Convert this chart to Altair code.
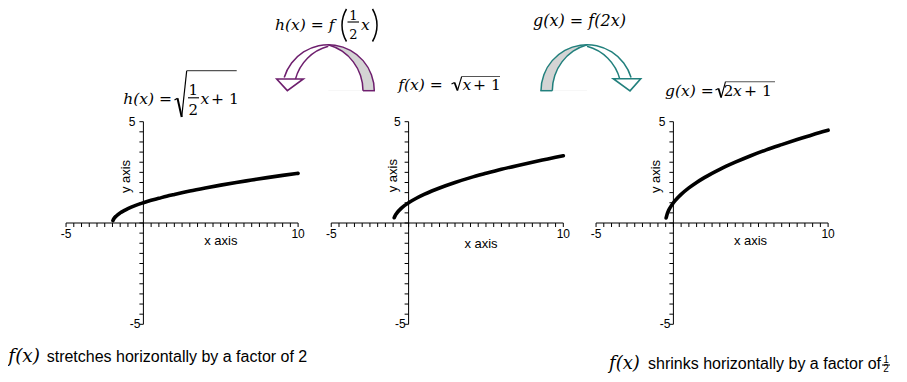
import math
import altair as alt
import pandas as pd

# ---------------- data ----------------
h_x = [-1.97, -1.9, -1.75, -1.5, -1.25, -1.0, -0.5, 0.0, 0.5, 1.0, 1.5, 2.0, 3.0, 4.0, 5.0, 6.0, 7.0, 8.0, 9.0, 10.0]
h_y = [0.12, 0.22, 0.35, 0.5, 0.61, 0.71, 0.87, 1.0, 1.12, 1.22, 1.32, 1.41, 1.58, 1.73, 1.87, 2.0, 2.12, 2.24, 2.35, 2.45]

f_x = [-0.93, -0.85, -0.75, -0.5, -0.25, 0.0, 0.5, 1.0, 1.5, 2.0, 3.0, 4.0, 5.0, 6.0, 7.0, 8.0, 9.0, 10.0]
f_y = [0.26, 0.39, 0.5, 0.71, 0.87, 1.0, 1.22, 1.41, 1.58, 1.73, 2.0, 2.24, 2.45, 2.65, 2.83, 3.0, 3.16, 3.32]

g_x = [-0.47, -0.42, -0.35, -0.25, -0.1, 0.0, 0.25, 0.5, 1.0, 1.5, 2.0, 3.0, 4.0, 5.0, 6.0, 7.0, 8.0, 9.0, 10.0]
g_y = [0.25, 0.4, 0.55, 0.71, 0.89, 1.0, 1.22, 1.41, 1.73, 2.0, 2.24, 2.65, 3.0, 3.32, 3.61, 3.87, 4.12, 4.36, 4.58]

x_range = [-5, 10]
y_range = [-5, 5]
x_ticks = [i / 2 for i in range(-10, 21)]
y_ticks = [i / 2 for i in range(-10, 11)]
x_tick_labels = ["-5", "10"]
y_tick_labels = ["5", "-5"]

# ---------------- layout ----------------
W, H = 891, 366
M = 8                # page margin
PX = 15.47           # px per x unit
PY = 20.26           # px per y unit
Y0 = 223 - M         # chart px of y = 0

Y_SCALE = alt.Scale(domain=[-(H - Y0) / PY, Y0 / PY], nice=False, zero=False)

MATH = "DejaVu Serif"
SANS = "Liberation Sans"
PURPLE = "#6e1f6e"
TEAL = "#22807d"
GRAYFILL = "#d4d4d4"
TAU = 2 * math.pi

one = pd.DataFrame({"k": [0]})
layers = []


def xscale(o):
    oc = o - M
    return alt.Scale(domain=[-oc / PX, (W - oc) / PX], nice=False, zero=False)


def txt(s, x, y, size=15, font=MATH, style="normal", align="left",
        baseline="alphabetic", angle=0, color="black"):
    kw = dict(font=font, fontSize=size, fontStyle=style, align=align,
              baseline=baseline, color=color)
    if angle:
        kw["angle"] = angle
    return alt.Chart(pd.DataFrame({"t": [s]})).mark_text(**kw).encode(
        x=alt.value(x - M), y=alt.value(y - M), text="t:N")


def seg(x1, y1, x2, y2, w=1.2, color="black"):
    return alt.Chart(one).mark_rule(color=color, strokeWidth=w).encode(
        x=alt.value(x1 - M), y=alt.value(y1 - M),
        x2=alt.value(x2 - M), y2=alt.value(y2 - M))


def sector(cx, cy, r_out, r_in, t1, t2, fill):
    return alt.Chart(one).mark_arc(radius=r_out, radius2=r_in, theta=t1, theta2=t2,
                                   fill=fill, strokeWidth=0).encode(
        x=alt.value(cx - M), y=alt.value(cy - M))


def ring(cx, cy, r, t1, t2, color, w=1.5):
    return sector(cx, cy, r + w / 2, r - w / 2, t1, t2, color)


def panel(o, xs, ys, xt_dx, xt_base, yt_dx, yt_cy):
    sc = xscale(o)

    def X(f):
        return alt.X(f"{f}:Q", scale=sc, axis=None)

    def Y(f):
        return alt.Y(f"{f}:Q", scale=Y_SCALE, axis=None)

    out = []
    axes_df = pd.DataFrame({"x": [x_range[0], 0], "x2": [x_range[1], 0],
                            "y": [0, y_range[0]], "y2": [0, y_range[1]]})
    out.append(alt.Chart(axes_df).mark_rule(color="black", strokeWidth=1).encode(
        x=X("x"), x2=alt.X2("x2"), y=Y("y"), y2=alt.Y2("y2")))
    out.append(alt.Chart(pd.DataFrame({"x": x_ticks, "y": [0] * len(x_ticks)}))
               .mark_tick(orient="vertical", size=4, thickness=1, color="black",
                          opacity=1, yOffset=2)
               .encode(x=X("x"), y=Y("y")))
    out.append(alt.Chart(pd.DataFrame({"x": [0] * len(y_ticks), "y": y_ticks}))
               .mark_tick(orient="horizontal", size=4, thickness=1, color="black",
                          opacity=1, xOffset=-2)
               .encode(x=X("x"), y=Y("y")))
    # tick labels
    out.append(alt.Chart(pd.DataFrame({"x": x_range, "y": [0, 0], "t": x_tick_labels}))
               .mark_text(font=SANS, fontSize=12, align="center", dy=11, color="black")
               .encode(x=X("x"), y=Y("y"), text="t:N"))
    out.append(alt.Chart(pd.DataFrame({"x": [0], "y": [y_range[1]], "t": [y_tick_labels[0]]}))
               .mark_text(font=SANS, fontSize=12, align="right", baseline="middle",
                          dx=-8, color="black")
               .encode(x=X("x"), y=Y("y"), text="t:N"))
    out.append(alt.Chart(pd.DataFrame({"x": [0], "y": [y_range[0]], "t": [y_tick_labels[1]]}))
               .mark_text(font=SANS, fontSize=12, align="right", baseline="middle",
                          dx=-3, color="black")
               .encode(x=X("x"), y=Y("y"), text="t:N"))
    # axis titles
    out.append(txt("x axis", o + xt_dx, xt_base, size=13, font=SANS, align="center"))
    out.append(txt("y axis", o + yt_dx, yt_cy, size=13, font=SANS, align="center", angle=270))
    # curve
    out.append(alt.Chart(pd.DataFrame({"x": xs, "y": ys}))
               .mark_line(color="black", strokeWidth=3.6, strokeCap="round",
                          interpolate="monotone")
               .encode(x=X("x"), y=Y("y")))
    return out


layers += panel(143.4, h_x, h_y, 77.4, 245, -13.4, 176.5)
layers += panel(408.6, f_x, f_y, 72.4, 248, -11.5, 175.7)
layers += panel(673.4, g_x, g_y, 77.1, 245, -13.4, 176.5)


# ---------------- curved block arrows ----------------
def head(x, y, shape, size, color):
    return alt.Chart(one).mark_point(shape=shape, size=size, filled=True, fill="white",
                                     stroke=color, strokeWidth=1.6, opacity=1).encode(
        x=alt.value(x - M), y=alt.value(y - M))


def curved_arrow(cx, cy, color, s):
    """s = +1: arrow bends to the left (head on the left); s = -1: mirrored."""
    R, R2, R3 = 46.0, 47.8, 46.0
    c2x = cx - s * 13.1          # centre of the inner edge of the grey back band
    c3x = cx + s * 11.7          # centre of the inner edge of the white front band

    def th(a, b):
        if s > 0:
            return a, b
        return TAU - b + TAU, TAU - a + TAU

    out = []
    a, b = th(0, math.pi / 2)
    out.append(sector(cx, cy, R, 0, a, b, GRAYFILL))
    out.append(sector(c2x, cy, R2, 0, a, b, "white"))
    a, b = th(TAU - 1.28, TAU + math.pi / 2)
    out.append(ring(cx, cy, R, a, b, color))
    a, b = th(0.275, math.pi / 2)
    out.append(ring(c2x, cy, R2, a, b, color))
    a, b = th(4.969, 6.026)
    out.append(ring(c3x, cy, R3, a, b, color))
    if s > 0:
        out.append(seg(cx + 34.7, cy, cx + 46.7, cy, 1.5, color))
    else:
        out.append(seg(cx - 46.7, cy, cx - 34.7, cy, 1.5, color))
    return out


layers += curved_arrow(328.3, 90.7, PURPLE, 1)
layers.append(head(290, 84.8, "M-1,-0.44L1,-0.44L-0.2,0.44Z", 708, PURPLE))
layers += curved_arrow(587, 90.7, TEAL, -1)
layers.append(head(627, 84.8, "M-1,-0.44L1,-0.44L0.22,0.44Z", 751, TEAL))


# ---------------- formulas ----------------
def paren(x_extreme, ytop, ybot, left, w=1.5):
    half = (ybot - ytop) / 2
    sag = 4.5
    r = (half ** 2 + sag ** 2) / (2 * sag)
    ang = math.asin(half / r)
    cy = (ytop + ybot) / 2
    if left:
        return ring(x_extreme + r, cy, r, 1.5 * math.pi - ang, 1.5 * math.pi + ang, "black", w)
    return ring(x_extreme - r, cy, r, 0.5 * math.pi - ang, 0.5 * math.pi + ang, "black", w)


# h(x) = f(1/2 x)   (kept inside the drawing area: nothing above page y = 8)
layers.append(txt("h(x) = f", 275, 30, 15.5, style="italic"))
layers.append(paren(342, 9, 41.5, True))
layers.append(txt("1", 353.3, 19.5, 13, align="center"))
layers.append(seg(347.5, 22, 359, 22, 1.1))
layers.append(txt("2", 353.3, 38.5, 13, align="center"))
layers.append(txt("x", 361, 30, 15.5, style="italic"))
layers.append(paren(377, 9, 41.5, False))
# g(x) = f(2x)
layers.append(txt("g(x) = f(2x)", 533, 26, 16, style="italic"))

# panel 1 label: h(x) = sqrt(1/2 x + 1)
layers.append(txt("h(x) =", 123.3, 104, 15.5, style="italic"))
layers.append(seg(174.5, 100, 177.5, 98.3, 1.3))
layers.append(seg(177.5, 98.3, 181.7, 117, 2))
layers.append(seg(181.7, 117, 186.7, 70.7, 1.2))
layers.append(seg(186.7, 70.7, 236.7, 70.7, 1.2, "#555555"))
layers.append(txt("1", 193.3, 95, 15, align="center"))
layers.append(seg(188, 97.8, 199, 97.8, 1.1))
layers.append(txt("2", 193.3, 115, 15, align="center"))
layers.append(txt("x", 200.5, 103.5, 15.5, style="italic"))
layers.append(txt("+ 1", 211, 103.5, 15.5))

# panel 2 label: f(x) = sqrt(x + 1)
layers.append(txt("f(x) =", 398.3, 90, 15.5, style="italic"))
layers.append(seg(451.5, 84, 454.5, 82.5, 1.2))
layers.append(seg(454.5, 82.5, 457.5, 90.5, 1.8))
layers.append(seg(457.5, 90.5, 461.7, 76.5, 1.1))
layers.append(seg(461.7, 76.5, 500, 76.5, 1.1, "#555555"))
layers.append(txt("x", 462.5, 90, 15.5, style="italic"))
layers.append(txt("+ 1", 473, 90, 15.5))

# panel 3 label: g(x) = sqrt(2x + 1)
layers.append(txt("g(x) =", 665, 95.5, 15.5, style="italic"))
layers.append(seg(715.5, 90, 718.5, 88.5, 1.2))
layers.append(seg(718.5, 88.5, 721.2, 97.5, 1.8))
layers.append(seg(721.2, 97.5, 725.5, 81.7, 1.1))
layers.append(seg(725.5, 81.7, 775, 81.7, 1.1, "#555555"))
layers.append(txt("2", 723.5, 95.5, 15.5))
layers.append(txt("x", 733, 95.5, 15.5, style="italic"))
layers.append(txt("+ 1", 744, 95.5, 15.5))

# ---------------- captions ----------------
layers.append(txt("f(x)", 8.3, 361.5, 18.5, style="italic"))
layers.append(txt("stretches horizontally by a factor of 2", 46.7, 361.5, 16, font=SANS))
layers.append(txt("f(x)", 609, 369, 18, style="italic"))
layers.append(txt("shrinks horizontally by a factor of", 648, 369, 16, font=SANS))
layers.append(txt("1", 886, 362.5, 10, font=SANS, align="center"))
layers.append(seg(882, 365, 890, 365, 1))
layers.append(txt("2", 886, 372, 10, font=SANS, align="center"))

chart = (
    alt.layer(*layers)
    .resolve_scale(x="independent")
    .properties(width=W, height=H, padding=0, background="white")
    .configure_view(strokeWidth=0)
)

chart.save("out.html", embed_options={"renderer": "svg", "actions": False})
